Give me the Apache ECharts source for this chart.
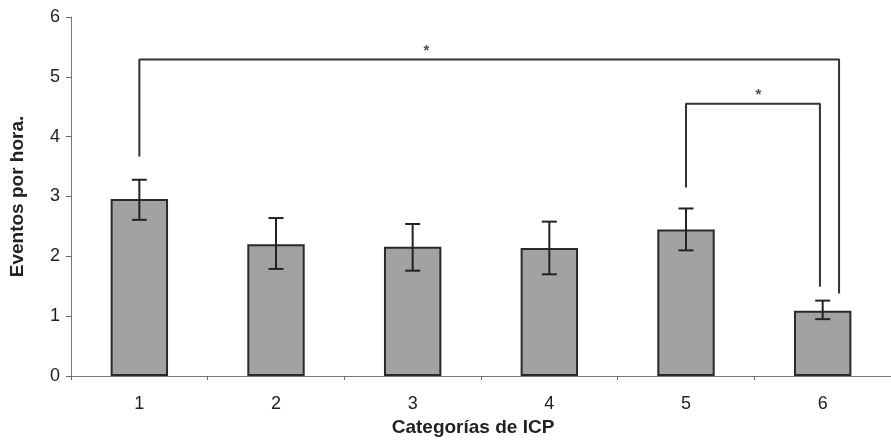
<!DOCTYPE html>
<html>
<head>
<meta charset="utf-8">
<script src="https://cdn.jsdelivr.net/npm/echarts@6/dist/echarts.min.js"></script>
<style>
html,body{margin:0;padding:0;background:#fff;}
#c{width:891px;height:443px;}
</style>
</head>
<body>
<div id="c"></div>
<script>
var categories = ['1', '2', '3', '4', '5', '6'];
var means = [2.96, 2.20, 2.16, 2.14, 2.45, 1.09];
var errLow = [2.61, 1.79, 1.76, 1.70, 2.10, 0.95];
var errHigh = [3.28, 2.64, 2.54, 2.58, 2.80, 1.26];
var yTicks = [0, 1, 2, 3, 4, 5, 6];
// significance brackets: [x, y] points in category units (1..6)
var bracketBig = [[1, 3.67], [1, 5.29], [6.12, 5.29], [6.12, 1.38]];
var bracketSmall = [[5, 3.15], [5, 4.55], [5.98, 4.55], [5.98, 1.49]];
var stars = [[3.10, 5.29], [5.53, 4.55]];

var chart = echarts.init(document.getElementById('c'), null, {renderer: 'canvas'});
var font = '"Liberation Sans", Arial, Helvetica, sans-serif';

var errData = categories.map(function (c, i) { return [i, errLow[i], errHigh[i]]; });

var option = {
  animation: false,
  backgroundColor: '#ffffff',
  grid: {left: 70, top: 17, width: 823, height: 359, containLabel: false},
  xAxis: [{
    type: 'category',
    data: categories,
    boundaryGap: true,
    axisLine: {show: true, lineStyle: {color: '#777', width: 1}},
    axisTick: {show: true, length: 4, lineStyle: {color: '#666'}},
    axisLabel: {fontFamily: font, fontSize: 18, color: '#222', margin: 19},
    name: 'Categorías de ICP',
    nameLocation: 'middle',
    nameGap: 35,
    nameTextStyle: {fontFamily: font, fontSize: 19, fontWeight: 'bold', color: '#222', padding: [0, 16, 0, 0]}
  }, {
    type: 'value',
    min: 0.5,
    max: 6.5,
    show: false
  }],
  yAxis: {
    type: 'value',
    min: yTicks[0],
    max: yTicks[yTicks.length - 1],
    interval: 1,
    splitLine: {show: false},
    axisLine: {show: true, lineStyle: {color: '#777', width: 1}},
    axisTick: {show: true, length: 5, inside: false, lineStyle: {color: '#666'}},
    axisLabel: {fontFamily: font, fontSize: 18, color: '#222', margin: 11},
    name: 'Eventos por hora.',
    nameLocation: 'middle',
    nameGap: 44,
    nameRotate: 90,
    nameTextStyle: {fontFamily: font, fontSize: 19, fontWeight: 'bold', color: '#222'}
  },
  series: [{
    type: 'bar',
    data: means,
    barWidth: '42%',
    itemStyle: {color: '#a2a2a2', borderColor: '#2a2a2a', borderWidth: 2}
  }, {
    type: 'custom',
    data: errData,
    z: 5,
    renderItem: function (params, api) {
      var x = api.value(0);
      var lo = api.coord([x, api.value(1)]);
      var hi = api.coord([x, api.value(2)]);
      var hw = 7.5;
      var st = {stroke: '#222', lineWidth: 2};
      return {
        type: 'group',
        children: [
          {type: 'line', shape: {x1: hi[0], y1: hi[1], x2: lo[0], y2: lo[1]}, style: st},
          {type: 'line', shape: {x1: hi[0] - hw, y1: hi[1], x2: hi[0] + hw, y2: hi[1]}, style: st},
          {type: 'line', shape: {x1: lo[0] - hw, y1: lo[1], x2: lo[0] + hw, y2: lo[1]}, style: st}
        ]
      };
    }
  }, {
    type: 'line',
    xAxisIndex: 1,
    data: bracketBig,
    symbol: 'none',
    lineStyle: {color: '#333', width: 2},
    z: 4
  }, {
    type: 'line',
    xAxisIndex: 1,
    data: bracketSmall,
    symbol: 'none',
    lineStyle: {color: '#333', width: 2},
    z: 4
  }, {
    type: 'scatter',
    xAxisIndex: 1,
    data: stars,
    symbolSize: 0,
    label: {
      show: true,
      position: 'top',
      distance: 1,
      formatter: '*',
      fontFamily: font,
      fontSize: 15,
      fontWeight: 'bold',
      color: '#222'
    },
    z: 6
  }]
};
chart.setOption(option);
</script>
</body>
</html>
